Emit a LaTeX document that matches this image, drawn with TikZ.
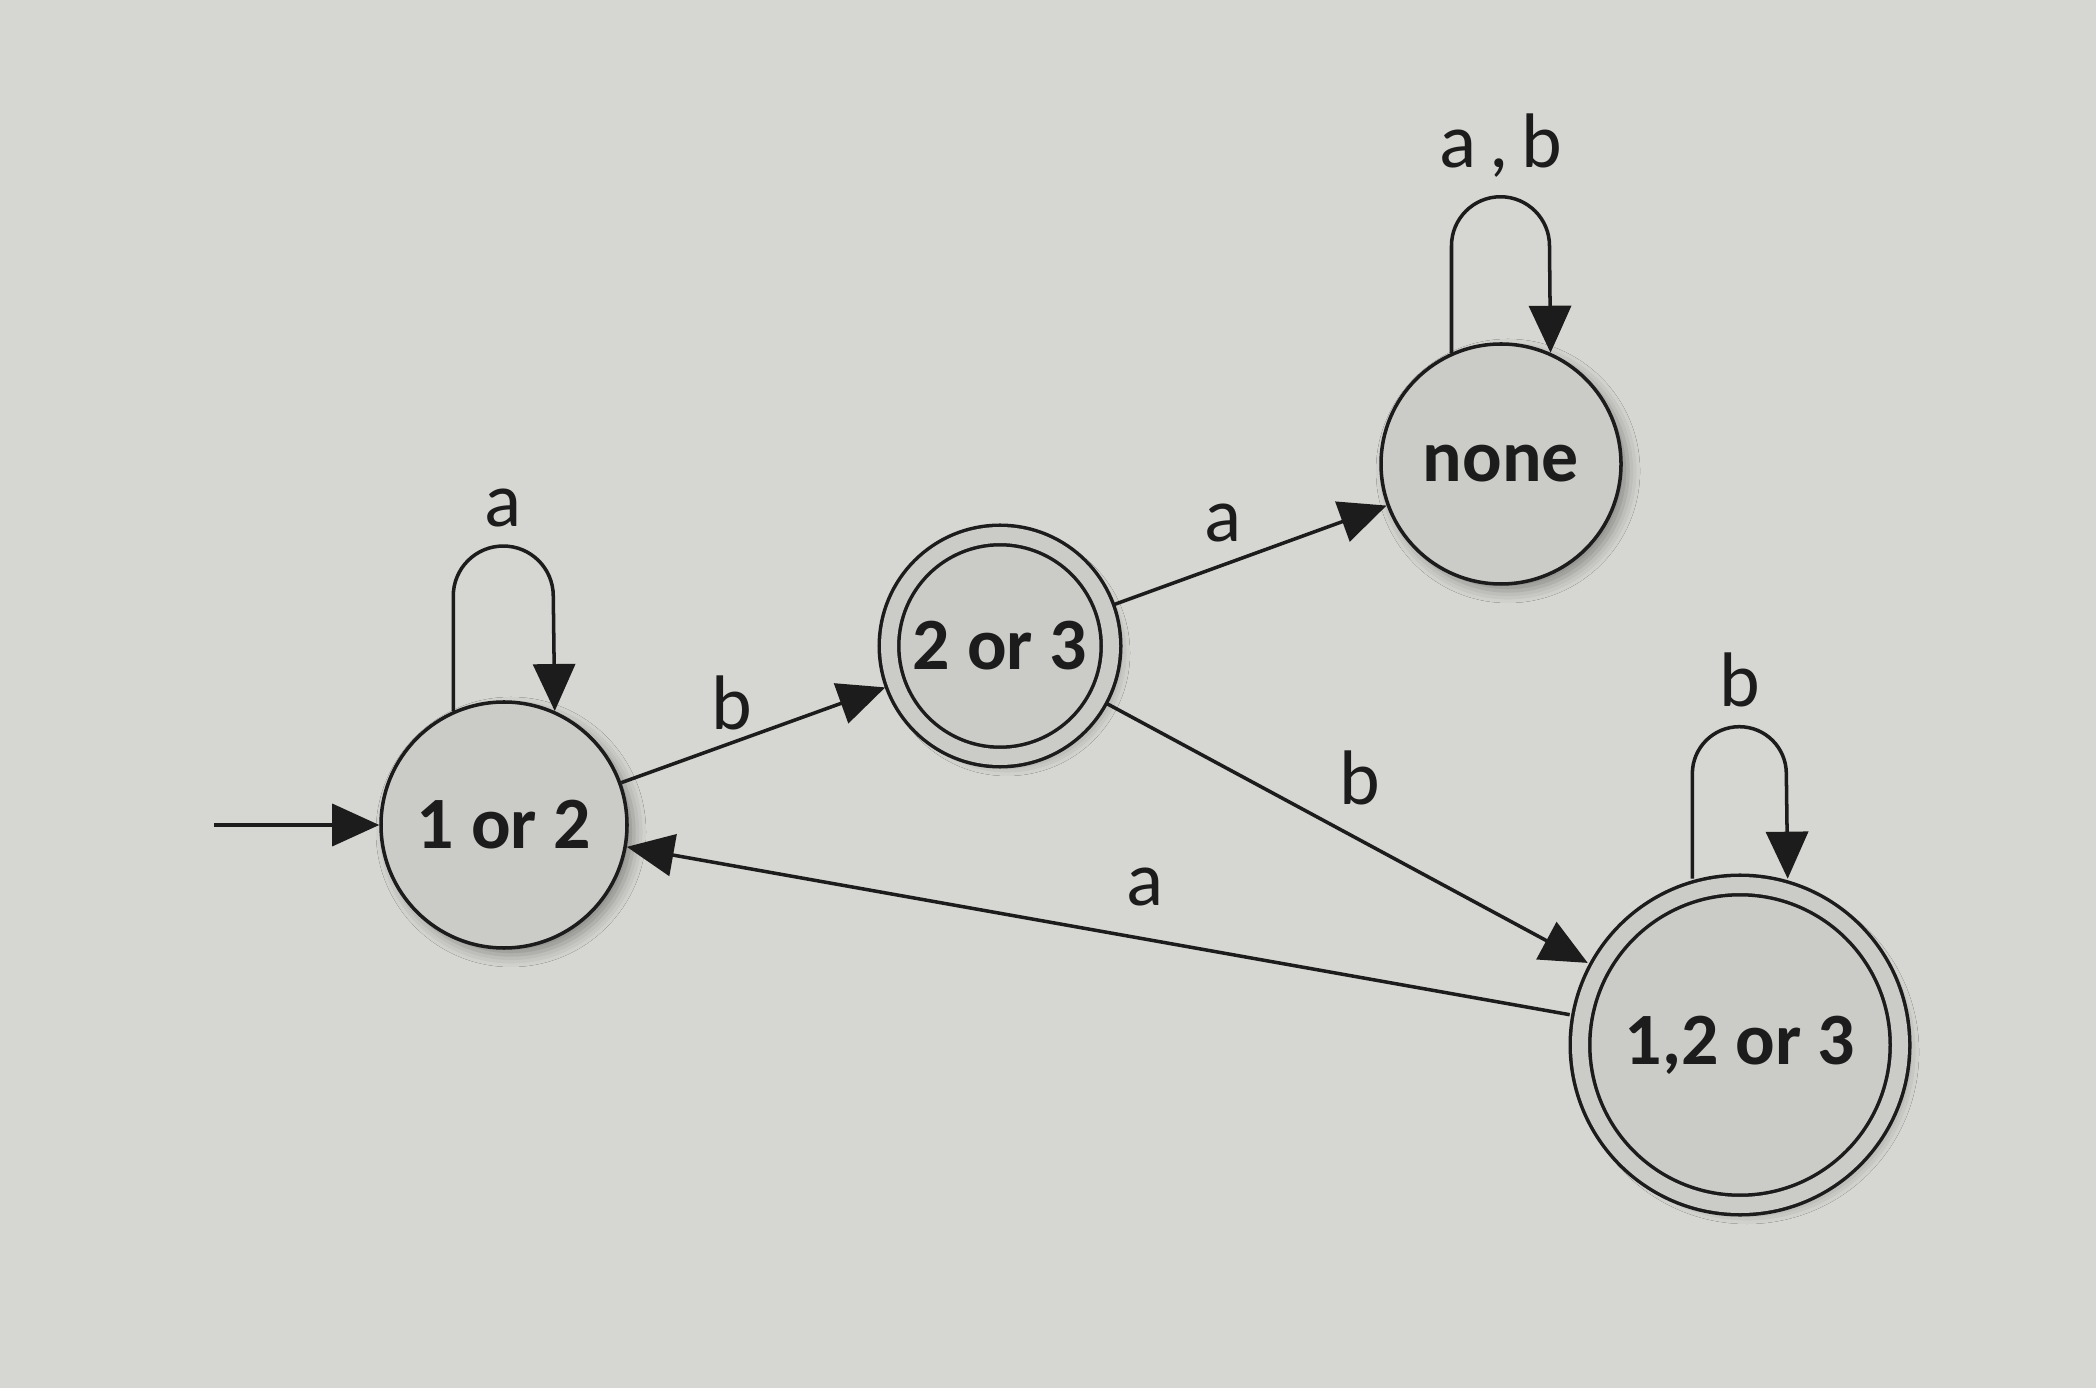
\documentclass[tikz,border=0pt]{standalone}
\usepackage{fontspec}
\setmainfont{Carlito}
\usetikzlibrary{arrows.meta}
\usetikzlibrary{shadows.blur}
\definecolor{paper}{RGB}{214,214,210}
\definecolor{statefill}{RGB}{203,203,200}
\definecolor{ink}{RGB}{28,28,28}
\tikzstyle{state} = [circle, draw=ink, line width=1pt, fill=statefill, minimum size=2.46cm, inner sep=0pt, text=ink, font=\fontsize{21}{24}\selectfont\bfseries, blur shadow={shadow xshift=0.07cm, shadow yshift=-0.07cm, shadow blur radius=0.12cm, shadow opacity=35}]
\tikzstyle{accept} = [double=statefill, double distance=0.16cm]
\tikzstyle{edge} = [draw=ink, line width=1pt, -{Triangle[length=0.47cm, width=0.42cm]}]
\tikzstyle{lbl} = [font=\fontsize{22}{26}\selectfont, text=ink, inner sep=3pt]

\begin{document}
\begin{tikzpicture}
   \fill[paper] (0,0) rectangle (20.96,13.88);
   % Place nodes
   \node [state] (q12) at (5.04,5.63) {1 or 2};
   \node [state, accept, minimum size=2.22cm, outer sep=0.11cm] (q23) at (10.00,7.42) {2 or 3};
   \node [state, minimum size=2.40cm] (none) at (15.01,9.24) {none};
   \node [state, accept, minimum size=3.20cm, outer sep=0.13cm] (q123) at (17.40,3.43) {1,2 or 3};
   \coordinate (start) at (2.14,5.63);

   % Transitions
   \draw[edge] (start) -- (q12);
   \draw[edge] (q12) -- node [lbl, above, pos=0.42] {b} (q23);
   \draw[edge] (q23) -- node [lbl, above=3pt, pos=0.4] {a} (none);
   \draw[edge] (q23) -- node [lbl, above right=1pt, pos=0.45] {b} (q123);
   \draw[edge] (q123) -- node [lbl, above=6pt, pos=0.45] {a} (q12);

   % Self loops
   \draw[edge] (q12.114) -- ++(0,1.15) arc[start angle=180, end angle=90, radius=0.5] node [lbl, above=2pt] {a} arc[start angle=90, end angle=0, radius=0.5] -- (q12.66);
   \draw[edge] (none.114) -- ++(0,1.07) arc[start angle=180, end angle=90, radius=0.49] node [lbl, above=2pt] {a\,,\,b} arc[start angle=90, end angle=0, radius=0.49] -- (none.66);
   \draw[edge] (q123.106) -- ++(0,1.05) arc[start angle=180, end angle=90, radius=0.47] node [lbl, above=2pt] {b} arc[start angle=90, end angle=0, radius=0.47] -- (q123.74);
\end{tikzpicture}
\end{document}
